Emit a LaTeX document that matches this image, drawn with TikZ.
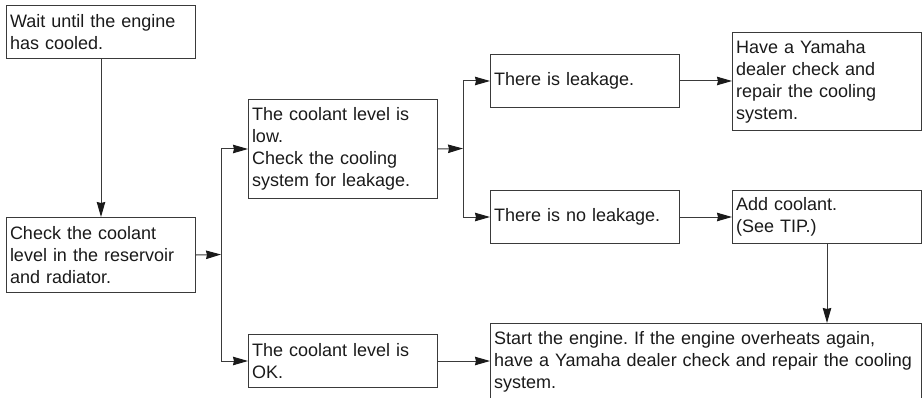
\documentclass[tikz,border=0pt]{standalone}
\usepackage{fontspec}
\setmainfont{Liberation Sans}
\usetikzlibrary{arrows.meta,calc}
\definecolor{ln}{HTML}{3A3A3A}
\definecolor{tx}{HTML}{1A1A1A}
\frenchspacing
\hyphenpenalty=10000
\exhyphenpenalty=10000
\begin{document}
\begin{tikzpicture}[x=1pt,y=-1pt,
  bx/.style={draw=ln, line width=1pt, anchor=north west, align=left, inner xsep=3.5pt, inner ysep=0pt,
    text=tx, font=\fontsize{18}{22}\selectfont, text width=#1-7pt},
  conn/.style={draw=ln, line width=1pt},
  arr/.style={conn, -{Stealth[length=15pt,width=8.5pt,inset=1pt,color=tx]}}]
\useasboundingbox (0,0) rectangle (923,398);
\clip (0,0) rectangle (923,398);
\node[bx=189pt, minimum height=53pt] (b1) at (6,5) {Wait until the engine\\has cooled.};
\node[bx=189pt, minimum height=75pt] (b2) at (6,217) {Check the coolant\\level in the reservoir\\and radiator.};
\node[bx=189pt, minimum height=99pt] (b3) at (248,99) {The coolant level is\\low.\\Check the cooling\\system for leakage.};
\node[bx=189pt, minimum height=53pt] (b4) at (248,334) {The coolant level is\\OK.};
\node[bx=189pt, minimum height=53pt] (b5) at (490,54) {There is leakage.};
\node[bx=189pt, minimum height=98pt] (b6) at (732,32) {Have a Yamaha\\dealer check and\\repair the cooling\\system.};
\node[bx=189pt, minimum height=53pt] (b7) at (490,190) {There is no leakage.};
\node[bx=189pt, minimum height=53pt] (b8) at (732,190) {Add coolant.\\(See TIP.)};
\node[bx=431pt, minimum height=77pt] (b9) at (490,323) {Start the engine. If the engine overheats again,\\have a Yamaha dealer check and repair the cooling\\system.};
\coordinate (busA) at (221,254.5);
\coordinate (busB) at (463,148.5);
\draw[arr] (b1.south) -- (b2.north);
\draw[arr] (b2.east) -- (busA);
\draw[arr] (busA) |- (b3.west);
\draw[arr] (busA) |- (b4.west);
\draw[arr] (b3.east) -- (busB);
\draw[arr] (busB) |- (b5.west);
\draw[arr] (busB) |- (b7.west);
\draw[arr] (b5.east) -- (b5.east -| b6.west);
\draw[arr] (b7.east) -- (b8.west);
\draw[arr] (b8.south) -- (b8.south |- b9.north);
\draw[arr] (b4.east) -- (b4.east -| b9.west);
\end{tikzpicture}
\end{document}
